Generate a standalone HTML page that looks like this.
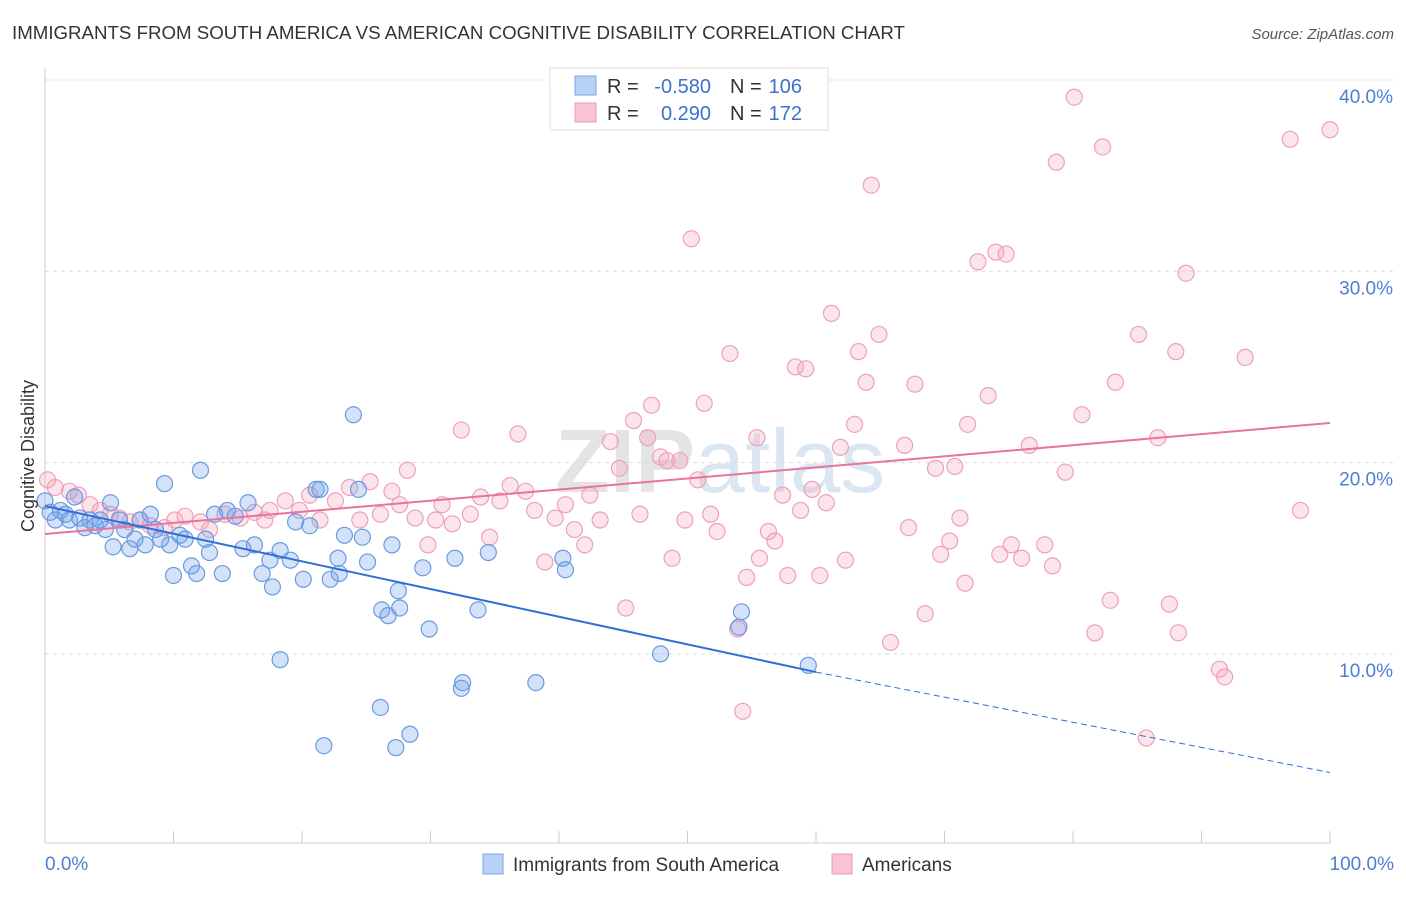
<!DOCTYPE html>
<html><head><meta charset="utf-8"><style>
body{margin:0;background:#fff;font-family:"Liberation Sans",sans-serif;}
svg text{font-family:"Liberation Sans",sans-serif;}
</style></head><body>
<svg id="chart" width="1406" height="892" xmlns="http://www.w3.org/2000/svg">
<text x="12" y="39" font-size="18.7" fill="#333">IMMIGRANTS FROM SOUTH AMERICA VS AMERICAN COGNITIVE DISABILITY CORRELATION CHART</text>
<text x="1394" y="39" font-size="15" fill="#555" text-anchor="end" font-style="italic">Source: ZipAtlas.com</text>
<text x="555" y="492" font-size="90" fill="#e4e4e4" font-weight="bold">ZIP<tspan fill="#dbe6f3" font-weight="normal">atlas</tspan></text>
<g id="grid"></g>
<g id="axes"></g>
<g id="pts"></g>
<g id="trend"></g>
<text transform="translate(34,456) rotate(-90)" font-size="18" fill="#333" text-anchor="middle">Cognitive Disability</text>
<text x="45" y="870" font-size="19" fill="#4a7fd4">0.0%</text>
<text x="1394" y="870" font-size="19" fill="#4a7fd4" text-anchor="end">100.0%</text>
<g>
<rect x="550" y="68" width="278" height="62" fill="#fff" stroke="#ddd"/>
<rect x="575" y="76" width="21" height="19" fill="#b8d2f5" stroke="#7aa6e6"/>
<rect x="575" y="103" width="21" height="19" fill="#f9c4d4" stroke="#ee9ab8"/>
<text x="607" y="93" font-size="20" fill="#333">R =</text>
<text x="711" y="93" font-size="20" fill="#3a72cc" text-anchor="end">-0.580</text>
<text x="730" y="93" font-size="20" fill="#333">N =</text>
<text x="802" y="93" font-size="20" fill="#3a72cc" text-anchor="end">106</text>
<text x="607" y="120" font-size="20" fill="#333">R =</text>
<text x="711" y="120" font-size="20" fill="#3a72cc" text-anchor="end">0.290</text>
<text x="730" y="120" font-size="20" fill="#333">N =</text>
<text x="802" y="120" font-size="20" fill="#3a72cc" text-anchor="end">172</text>
</g>
<g>
<rect x="483" y="854" width="20" height="20" fill="#b8d2f5" stroke="#7aa6e6"/>
<text x="513" y="871" font-size="19" fill="#333">Immigrants from South America</text>
<rect x="832" y="854" width="20" height="20" fill="#f9c4d4" stroke="#ee9ab8"/>
<text x="862" y="871" font-size="19" fill="#333">Americans</text>
</g>
</svg>
<script>
const yTicks=[10,20,30,40];
const yTickLabels=["10.0%","20.0%","30.0%","40.0%"];
const xTicks=[0,10,20,30,40,50,60,70,80,90,100];
const blueX=[0,0.4,0.8,1.2,1.6,1.9,2.3,2.7,3.1,3.5,3.9,4.3,4.7,5.1,5.3,5.8,6.2,6.6,7.0,7.4,7.8,8.2,8.6,9.0,9.3,9.7,10.0,10.5,10.9,11.4,11.8,12.1,12.5,12.8,13.2,13.8,14.2,14.8,15.4,15.8,16.3,16.9,17.5,17.7,18.3,18.3,19.1,19.5,20.1,20.6,21.1,21.4,21.7,22.2,22.9,22.8,23.3,24.0,24.4,24.7,25.1,26.1,26.2,26.7,27.0,27.3,27.6,27.5,28.4,29.4,29.9,31.9,32.4,32.5,33.7,34.5,38.2,40.3,40.5,47.9,54.0,54.2,59.4];
const blueY=[18.0,17.4,17.0,17.5,17.3,17.0,18.2,17.1,16.6,17.0,16.7,17.0,16.5,17.9,15.6,17.0,16.5,15.5,16.0,17.0,15.7,17.3,16.5,16.0,18.9,15.7,14.1,16.2,16.0,14.6,14.2,19.6,16.0,15.3,17.3,14.2,17.5,17.2,15.5,17.9,15.7,14.2,14.9,13.5,15.4,9.7,14.9,16.9,13.9,16.7,18.6,18.6,5.2,13.9,14.2,15.0,16.2,22.5,18.6,16.1,14.8,7.2,12.3,12.0,15.7,5.1,12.4,13.3,5.8,14.5,11.3,15.0,8.2,8.5,12.3,15.3,8.5,15.0,14.4,10.0,11.4,12.2,9.4];
const pinkX=[0.2,0.8,1.9,2.6,3.5,4.3,5.1,5.8,6.6,7.4,8.2,9.3,10.1,10.9,12.1,12.8,14.0,15.2,16.3,17.1,17.5,18.7,19.8,20.6,21.4,22.6,23.7,24.5,25.3,26.1,27.0,27.6,28.2,28.8,29.8,30.4,30.9,31.7,32.4,33.1,33.9,34.6,35.4,36.2,36.8,37.4,38.1,38.9,39.7,40.5,41.2,42.0,42.4,43.2,44.0,44.7,45.2,45.8,46.3,46.9,47.2,47.9,48.4,48.8,49.4,49.8,50.3,50.8,51.3,51.8,52.3,53.3,53.9,54.3,54.6,55.4,55.6,56.3,56.8,57.4,57.8,58.4,58.8,59.2,59.7,60.3,60.8,61.2,61.9,62.3,63.0,63.3,63.9,64.3,64.9,65.8,66.9,67.2,67.7,68.5,69.3,69.7,70.4,70.8,71.2,71.6,71.8,72.6,73.4,74.0,74.3,74.8,75.2,76.0,76.6,77.8,78.4,78.7,79.4,80.1,80.7,81.7,82.3,82.9,83.3,85.1,85.7,86.6,87.5,88.0,88.2,88.8,91.4,91.8,93.4,96.9,97.7,100];
const pinkY=[19.1,18.7,18.5,18.3,17.8,17.5,17.3,17.1,16.9,17.0,16.7,16.6,17.0,17.2,16.9,16.5,17.3,17.1,17.4,17.0,17.5,18.0,17.5,18.3,17.0,18.0,18.7,17.0,19.0,17.3,18.5,17.8,19.6,17.1,15.7,17.0,17.8,16.8,21.7,17.3,18.2,16.1,18.0,18.8,21.5,18.5,17.5,14.8,17.1,17.8,16.5,15.7,18.3,17.0,21.1,19.7,12.4,22.2,17.3,21.3,23.0,20.3,20.1,15.0,20.1,17.0,31.7,19.1,23.1,17.3,16.4,25.7,11.3,7.0,14.0,21.3,15.0,16.4,15.9,18.3,14.1,25.0,17.5,24.9,18.6,14.1,17.9,27.8,20.8,14.9,22.0,25.8,24.2,34.5,26.7,10.6,20.9,16.6,24.1,12.1,19.7,15.2,15.9,19.8,17.1,13.7,22.0,30.5,23.5,31.0,15.2,30.9,15.7,15.0,20.9,15.7,14.6,35.7,19.5,39.1,22.5,11.1,36.5,12.8,24.2,26.7,5.6,21.3,12.6,25.8,11.1,29.9,9.2,8.8,25.5,36.9,17.5,37.4];
const blueTrend=[17.73,9.05,3.8];
const pinkTrend=[16.27,22.07];
const NS="http://www.w3.org/2000/svg";
const X=v=>45+v*12.85;
const Y=v=>80+(40-v)*19.13;
function mk(tag,attrs,parent){const e=document.createElementNS(NS,tag);for(const k in attrs)e.setAttribute(k,attrs[k]);parent.appendChild(e);return e;}
const grid=document.getElementById('grid'),axes=document.getElementById('axes'),pts=document.getElementById('pts'),trend=document.getElementById('trend');
yTicks.forEach((t,i)=>{
 const l=mk('line',{x1:45,x2:1394,y1:Y(t),y2:Y(t),stroke:'#ddd','stroke-dasharray':'4,4'},grid);
 
 
 const tx=mk('text',{x:1393,y:Y(t)+23,'font-size':19,fill:'#4a7fd4','text-anchor':'end'},grid);
 tx.textContent=yTickLabels[i];
 
 
});
const al=mk('line',{x1:45,x2:45,y1:68,y2:843,stroke:'#ccc'},axes);


const bl=mk('line',{x1:45,x2:1330,y1:843,y2:843,stroke:'#ccc'},axes);


xTicks.forEach(t=>{
 const l=mk('line',{x1:X(t),x2:X(t),y1:831,y2:843,stroke:'#ccc'},axes);
 
 
});
pinkX.forEach((x,i)=>{
 const c=mk('circle',{cx:X(x),cy:Y(pinkY[i]),r:8,fill:'rgba(245,165,190,0.3)',stroke:'#eea0bb','stroke-width':1.2},pts);
 
 
});
blueX.forEach((x,i)=>{
 const c=mk('circle',{cx:X(x),cy:Y(blueY[i]),r:8,fill:'rgba(110,160,235,0.3)',stroke:'#6a9ae0','stroke-width':1.2},pts);
 
 
});
const pl=mk('line',{x1:X(0),y1:Y(pinkTrend[0]),x2:X(100),y2:Y(pinkTrend[1]),stroke:'#e8739b','stroke-width':2},trend);


const b1=mk('line',{x1:X(0),y1:Y(blueTrend[0]),x2:X(60),y2:Y(blueTrend[1]),stroke:'#2f6fd6','stroke-width':2},trend);


const b2=mk('line',{x1:X(60),y1:Y(blueTrend[1]),x2:X(100),y2:Y(blueTrend[2]),stroke:'#2f6fd6','stroke-width':1,'stroke-dasharray':'6,4'},trend);


</script>
</body></html>
